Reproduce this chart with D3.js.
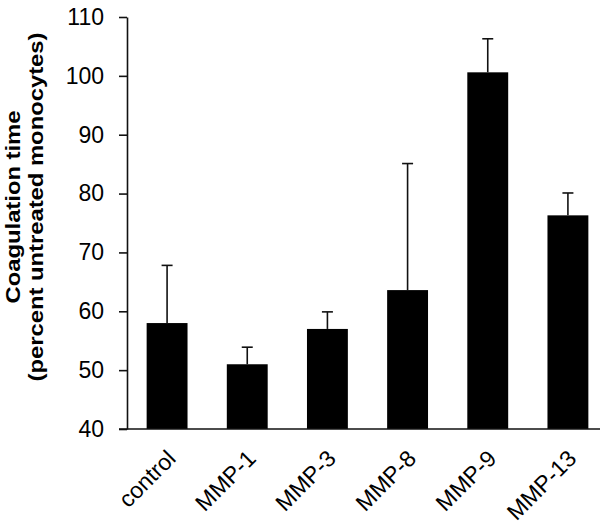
<!DOCTYPE html>
<html>
<head>
<meta charset="utf-8">
<script src="https://cdn.jsdelivr.net/npm/d3@7"></script>
<style>
body{margin:0;background:#fff;}
svg text{font-family:"Liberation Sans",Arial,sans-serif;fill:#000;}
</style>
</head>
<body>
<svg id="chart"></svg>
<script>
// bar chart: coagulation time by treatment
var categories=["control","MMP-1","MMP-3","MMP-8","MMP-9","MMP-13"]
var means=[58,51,57,63.6,100.6,76.3]
var errors=[9.8,2.9,2.9,21.5,5.7,3.8]
var yTicks=[40,50,60,70,80,90,100,110]

var screen={width:600,height:530}
var margins={top:17,left:127,bottom:101}

var svg=d3.select("#chart")
  .attr("width",screen.width)
  .attr("height",screen.height)

var x=d3.scaleBand()
  .domain(categories)
  .range([margins.left,608])
  .paddingInner(0.49)
  .paddingOuter(0.245)

var y=d3.scaleLinear()
  .domain([40,110])
  .range([screen.height-margins.bottom,margins.top])

//bars
svg.append("g").selectAll("rect")
  .data(means)
  .enter()
  .append("rect")
  .attr("x",function(d,i){return x(categories[i])})
  .attr("y",function(d){return y(d)})
  .attr("width",x.bandwidth())
  .attr("height",function(d){return y(40)-y(d)})
  .style("fill","#000")

//error bars, upper half only
var err=svg.append("g").selectAll("g")
  .data(means)
  .enter()
  .append("g")
  .style("stroke","#111")
  .style("stroke-width",1.6)
err.append("line")
  .attr("x1",function(d,i){return x(categories[i])+x.bandwidth()/2})
  .attr("x2",function(d,i){return x(categories[i])+x.bandwidth()/2})
  .attr("y1",function(d){return y(d)})
  .attr("y2",function(d,i){return y(d+errors[i])})
err.append("line")
  .attr("x1",function(d,i){return x(categories[i])+x.bandwidth()/2-5.5})
  .attr("x2",function(d,i){return x(categories[i])+x.bandwidth()/2+5.5})
  .attr("y1",function(d,i){return y(d+errors[i])})
  .attr("y2",function(d,i){return y(d+errors[i])})

//y axis
var yAxis=svg.append("g")
  .attr("transform","translate("+margins.left+",0)")
  .call(d3.axisLeft(y).tickValues(yTicks).tickSize(8).tickPadding(15).tickSizeOuter(0))
yAxis.select(".domain").style("stroke","#111").style("stroke-width",1.6)
yAxis.selectAll(".tick line").style("stroke","#111").style("stroke-width",1.6)
yAxis.selectAll(".tick text")
  .style("font-size","23px")

//x axis line, starts at the 40 tick
svg.append("line")
  .attr("x1",margins.left-8)
  .attr("x2",screen.width)
  .attr("y1",y(40))
  .attr("y2",y(40))
  .style("stroke","#111")
  .style("stroke-width",1.6)

//category labels, slanted
svg.append("g").selectAll("text")
  .data(categories)
  .enter()
  .append("text")
  .attr("transform",function(d){
    return "translate("+(x(d)+x.bandwidth()/2+10)+","+(y(40)+31)+") rotate(-45)"
  })
  .attr("text-anchor","end")
  .style("font-size","23px")
  .text(function(d){return d})

//y title, two lines
var title=svg.append("text")
  .attr("transform","translate(0,207) scale(1,1.19) rotate(-90)")
  .attr("text-anchor","middle")
  .style("font-size","20px")
  .style("font-weight","bold")
title.append("tspan").attr("x",0).attr("y",20).text("Coagulation time")
title.append("tspan").attr("x",0).attr("y",43).text("(percent untreated monocytes)")
</script>
</body>
</html>
